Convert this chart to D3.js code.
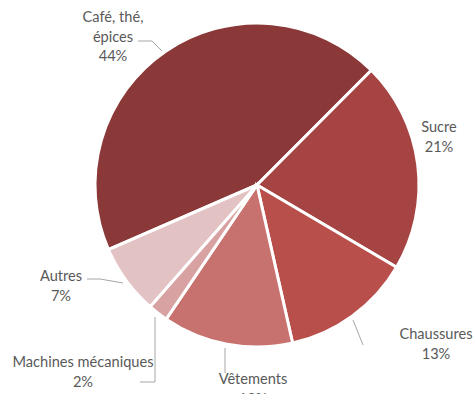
<!DOCTYPE html>
<html>
<head>
<meta charset="utf-8">
<script src="https://cdn.jsdelivr.net/npm/d3@7"></script>
<style>
  html, body { margin: 0; padding: 0; background: #fff; }
  svg { display: block; }
  text { font-family: Lato, "Open Sans", sans-serif; fill: #595959; font-size: 14.6px; }
</style>
</head>
<body>
<svg id="chart" width="476" height="394"></svg>
<script>
// Share of imports by product group
const categories = ["Café, thé, épices", "Sucre", "Chaussures", "Vêtements", "Machines mécaniques", "Autres"];
const values = [44, 21, 13, 13, 2, 7];
const labelLines = [["Café, thé,", "épices", "44%"], ["Sucre", "21%"], ["Chaussures", "13%"], ["Vêtements", "13%"], ["Machines mécaniques", "2%"], ["Autres", "7%"]];
const colors = ["#8b3838", "#a54442", "#b94f4b", "#c87270", "#d9a2a2", "#e3c2c3"];

const width = 476, height = 394;
const cx = 257, cy = 185, radius = 162;

const svg = d3.select("#chart");
const g = svg.append("g").attr("transform", `translate(${cx},${cy})`);

const start = 246.5 * Math.PI / 180;
const pie = d3.pie().sort(null).value(d => d.value)
  .startAngle(start).endAngle(start + 2 * Math.PI);
const arc = d3.arc().innerRadius(0).outerRadius(radius);

const data = categories.map((c, i) => ({ name: c, value: values[i], lines: labelLines[i], color: colors[i] }));
const arcs = pie(data);

g.selectAll("path.slice")
  .data(arcs)
  .join("path")
  .attr("class", "slice")
  .attr("d", arc)
  .attr("fill", d => d.data.color)
  .attr("stroke", "#fff")
  .attr("stroke-width", 3)
  .attr("stroke-linejoin", "miter");

// Label placement (page coordinates of the first line's centre) and leader lines
const labelPos = [
  { x: 113, y: 17 },
  { x: 439, y: 127 },
  { x: 436, y: 334 },
  { x: 253, y: 379 },
  { x: 83, y: 362 },
  { x: 61, y: 276 }
];
const leaders = [
  [[138, 41], [152, 41], [162, 51]],
  null,
  [[353, 320], [363, 345]],
  [[225, 348], [225, 373]],
  [[155, 317], [155, 382], [140, 382]],
  [[87, 279], [100, 279], [123, 283]]
];
const lineGap = 19.5;

const line = d3.line();
svg.selectAll("path.leader")
  .data(leaders.filter(l => l))
  .join("path")
  .attr("class", "leader")
  .attr("d", d => line(d))
  .attr("fill", "none")
  .attr("stroke", "#a6a6a6")
  .attr("stroke-width", 1);

const labels = svg.selectAll("text.label")
  .data(arcs)
  .join("text")
  .attr("class", "label")
  .attr("text-anchor", "middle");

labels.each(function(d, i) {
  const t = d3.select(this);
  d.data.lines.forEach((s, k) => {
    t.append("tspan")
      .attr("x", labelPos[i].x)
      .attr("y", labelPos[i].y + k * lineGap)
      .attr("dy", "0.35em")
      .text(s);
  });
});
</script>
</body>
</html>
